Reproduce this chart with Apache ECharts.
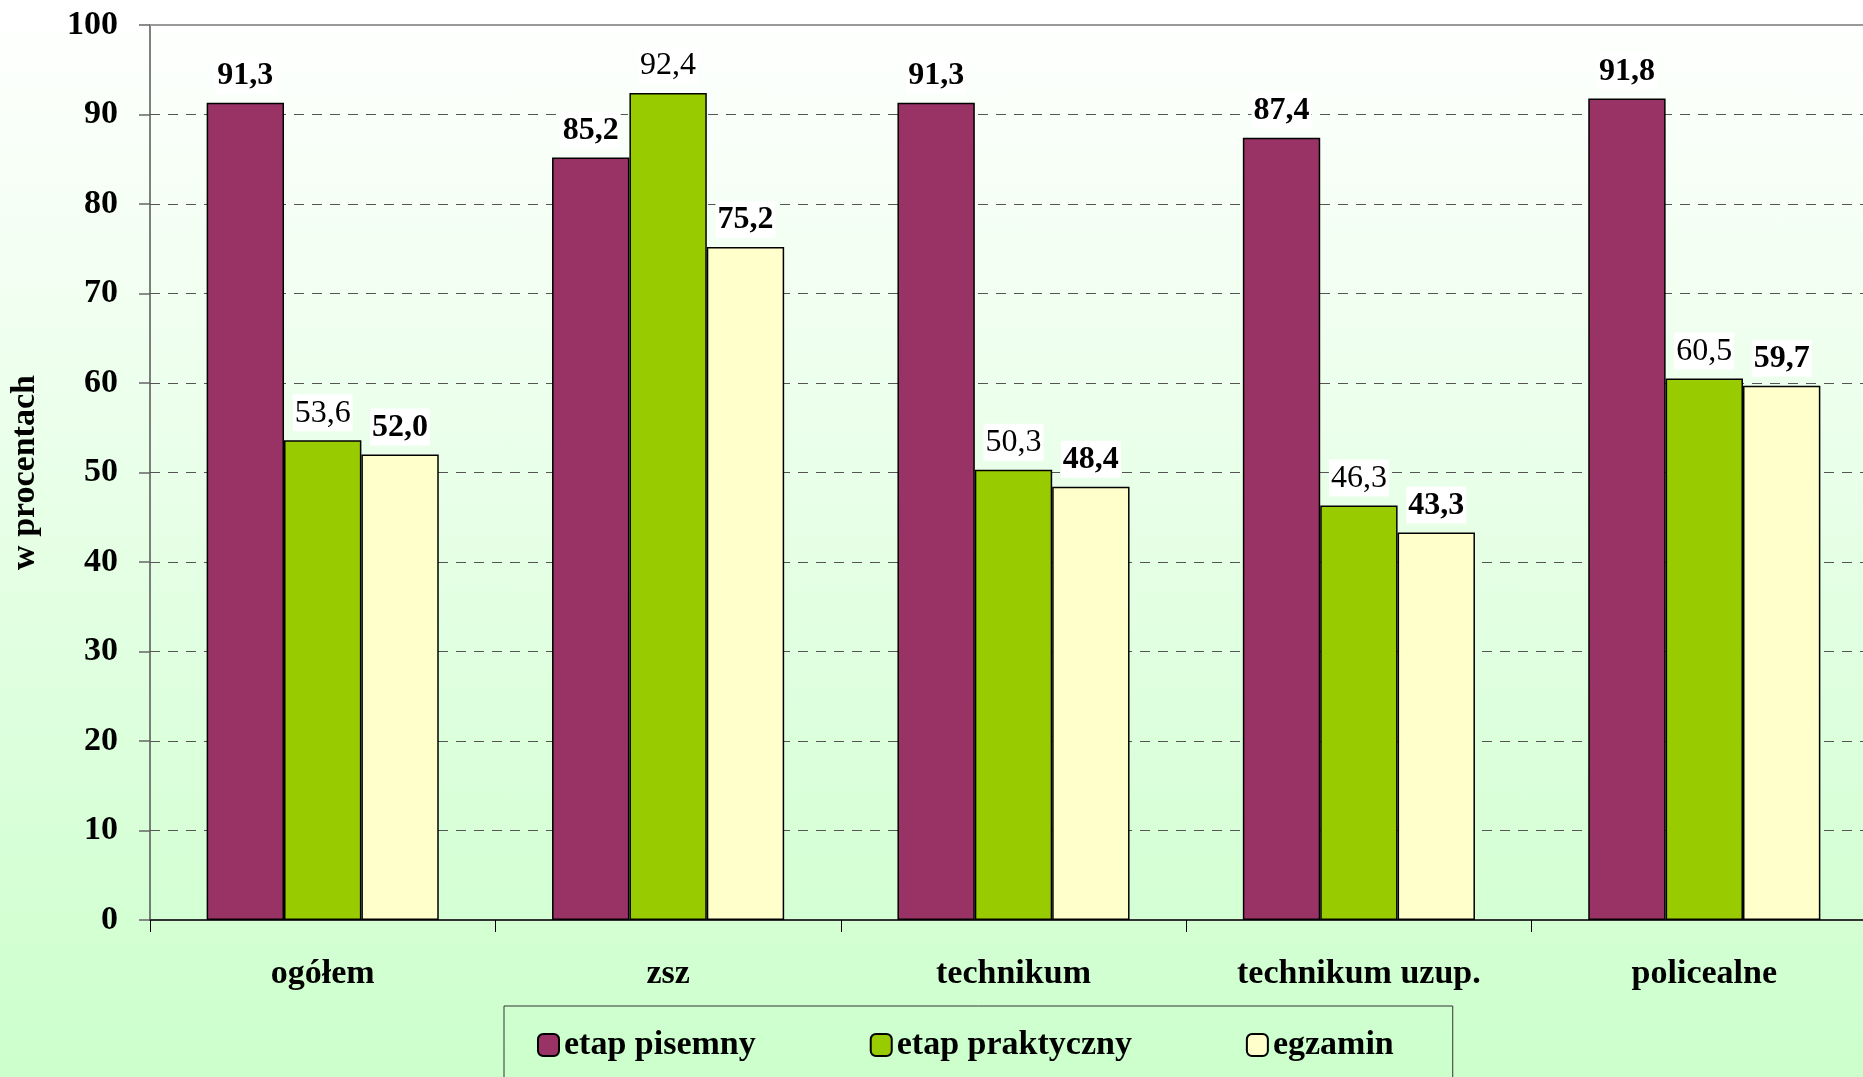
<!DOCTYPE html>
<html>
<head>
<meta charset="utf-8">
<script src="https://cdn.jsdelivr.net/npm/echarts@6/dist/echarts.min.js"></script>
<style>
html,body{margin:0;padding:0;width:1863px;height:1077px;overflow:hidden;}
#chart{width:1880px;height:1077px;background:linear-gradient(to bottom,#ffffff 0%,#ccffcc 100%);}
</style>
</head>
<body>
<div id="chart"></div>
<script>
const categories = ['ogółem', 'zsz', 'technikum', 'technikum uzup.', 'policealne'];
const seriesNames = ['etap pisemny', 'etap praktyczny', 'egzamin'];
const etapPisemny = [91.3, 85.2, 91.3, 87.4, 91.8];
const etapPraktyczny = [53.6, 92.4, 50.3, 46.3, 60.5];
const egzamin = [52.0, 75.2, 48.4, 43.3, 59.7];
const yTicks = [0, 10, 20, 30, 40, 50, 60, 70, 80, 90, 100];

const FONT = "'Liberation Serif', 'Times New Roman', serif";
const colors = ['#993366', '#99CC00', '#FFFFCC'];
const fmt = v => v.toFixed(1).replace('.', ',');

function mkSeries(name, data, color, bold) {
  return {
    name: name,
    type: 'bar',
    data: data,
    barWidth: '22.4%',
    barGap: '0%',
    itemStyle: { color: color, borderColor: '#000', borderWidth: 1.5 },
    label: {
      show: true,
      position: 'top',
      distance: 9,
      formatter: p => fmt(p.value),
      fontFamily: FONT,
      fontSize: 32,
      fontWeight: bold ? 'bold' : 'normal',
      color: '#000',
      backgroundColor: '#ffffff',
      padding: [2, 2, 1, 2],
      lineHeight: 34
    }
  };
}

const chart = echarts.init(document.getElementById('chart'));
chart.setOption({
  backgroundColor: 'transparent',
  animation: false,
  grid: { left: 150, top: 25, width: 1727, height: 895, containLabel: false },
  legend: {
    data: seriesNames,
    left: 504,
    top: 1006,
    orient: 'horizontal',
    itemWidth: 21,
    itemHeight: 22,
    itemGap: 114,
    padding: [22, 59, 80, 33],
    borderColor: '#333',
    borderWidth: 1,
    textStyle: { fontFamily: FONT, fontSize: 34, fontWeight: 'bold', color: '#000', lineHeight: 34 }
  },
  xAxis: [{
    type: 'category',
    data: categories,
    axisLine: { show: true, lineStyle: { color: '#333', width: 2 } },
    axisTick: { show: true, length: 12, lineStyle: { color: '#000', width: 1 } },
    axisLabel: { fontFamily: FONT, fontSize: 34, fontWeight: 'bold', color: '#000', margin: 37, interval: 0 }
  }, {
    type: 'category',
    data: categories,
    position: 'top',
    axisLine: { show: true, lineStyle: { color: '#999', width: 2 } },
    axisTick: { show: false },
    axisLabel: { show: false }
  }],
  yAxis: {
    type: 'value',
    min: yTicks[0],
    max: yTicks[yTicks.length - 1],
    interval: 10,
    name: 'w procentach',
    nameLocation: 'middle',
    nameGap: 108,
    nameTextStyle: { fontFamily: FONT, fontSize: 34, fontWeight: 'bold', color: '#000' },
    axisLine: { show: true, lineStyle: { color: '#555', width: 1.5 } },
    axisTick: { show: true, length: 11, lineStyle: { color: '#666', width: 1.5 } },
    axisLabel: { fontFamily: FONT, fontSize: 34, fontWeight: 'bold', color: '#000', margin: 32 },
    splitLine: { show: true, lineStyle: { color: '#555', width: 1, type: [10, 8] } }
  },
  series: [
    mkSeries(seriesNames[0], etapPisemny, colors[0], true),
    mkSeries(seriesNames[1], etapPraktyczny, colors[1], false),
    mkSeries(seriesNames[2], egzamin, colors[2], true)
  ]
});
</script>
</body>
</html>
